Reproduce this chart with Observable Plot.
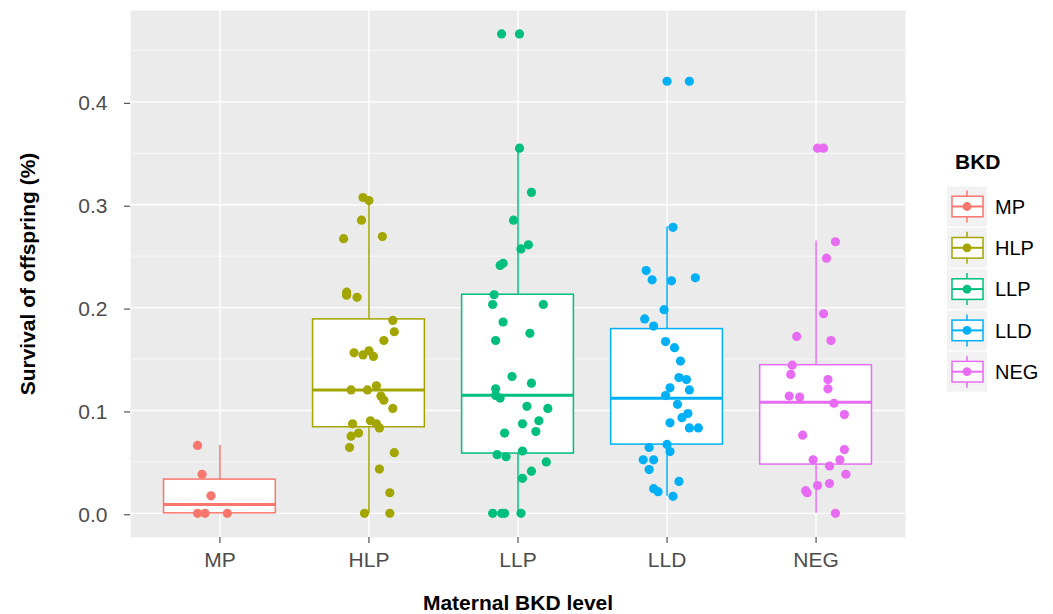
<!DOCTYPE html>
<html>
<head>
<meta charset="utf-8">
<script src="https://cdn.jsdelivr.net/npm/d3@7"></script>
<script src="https://cdn.jsdelivr.net/npm/@observablehq/plot@0.6"></script>
<style>
  html, body { margin: 0; padding: 0; background: #ffffff; }
  #chart { width: 1053px; height: 614px; }
</style>
</head>
<body>
<div id="chart"></div>
<script>
// ---- data ----
const categories = ["MP", "HLP", "LLP", "LLD", "NEG"];
const colors = ["#F8766D", "#A3A500", "#00BF7D", "#00B0F6", "#E76BF3"];
const yTicks = [0, 0.1, 0.2, 0.3, 0.4];
const yMinorTicks = [0.05, 0.15, 0.25, 0.35, 0.45];

// box statistics
const boxLower = [0, 0, 0, 0.0165, 0];
const boxQ1 = [0, 0.0837, 0.0581, 0.0668, 0.0474];
const boxMedian = [0.0085, 0.120, 0.1148, 0.1119, 0.1080];
const boxQ3 = [0.0328, 0.1885, 0.2125, 0.1791, 0.1440];
const boxUpper = [0.066, 0.3075, 0.3546, 0.2786, 0.2647];

// jittered observations (value, horizontal jitter in category units)
const mpValues = [0.066, 0.038, 0.017, 0, 0, 0];
const mpJitter = [-0.15, -0.12, -0.06, -0.15, -0.10, 0.05];
const hlpValues = [0.307,0.304,0.285,0.267,0.269,0.215,0.212,0.210,0.1875,0.1765,0.168,0.156,0.154,0.158,0.1525,0.120,0.120,0.124,0.114,0.110,0.102,0.087,0.090,0.087,0.083,0.075,0.078,0.064,0.059,0.043,0.020,0,0];
const hlpJitter = [-0.04,0.00,-0.05,-0.17,0.09,-0.15,-0.15,-0.08,0.16,0.17,0.10,-0.10,-0.04,0.00,0.03,-0.12,-0.01,0.05,0.08,0.10,0.16,-0.11,0.01,0.05,0.07,-0.12,-0.07,-0.13,0.17,0.07,0.14,-0.03,0.14];
const llpValues = [0.466,0.466,0.355,0.312,0.285,0.261,0.257,0.241,0.243,0.2125,0.203,0.203,0.186,0.175,0.168,0.133,0.1265,0.121,0.1145,0.112,0.104,0.102,0.090,0.087,0.0795,0.078,0.057,0.055,0.0606,0.050,0.041,0.034,0,0,0,0];
const llpJitter = [-0.11,0.01,0.01,0.09,-0.03,0.07,0.02,-0.12,-0.10,-0.16,-0.17,0.17,-0.10,0.08,-0.15,-0.04,0.09,-0.15,-0.15,-0.12,0.06,0.20,0.14,0.03,0.12,-0.09,-0.14,-0.08,0.03,0.19,0.09,0.03,-0.17,-0.11,-0.09,0.02];
const lldValues = [0.420,0.420,0.278,0.236,0.227,0.226,0.229,0.198,0.189,0.182,0.167,0.161,0.148,0.132,0.130,0.122,0.120,0.1145,0.106,0.097,0.093,0.088,0.083,0.083,0.064,0.067,0.060,0.052,0.052,0.0425,0.031,0.024,0.021,0.0165];
const lldJitter = [0.00,0.15,0.04,-0.14,-0.10,0.03,0.19,-0.02,-0.15,-0.09,-0.01,0.05,0.09,0.08,0.13,0.02,0.15,-0.01,0.07,0.14,0.10,0.02,0.15,0.21,-0.12,0.00,0.02,-0.16,-0.09,-0.12,0.08,-0.09,-0.06,0.04];
const negValues = [0.355,0.355,0.264,0.248,0.194,0.172,0.168,0.144,0.135,0.130,0.121,0.114,0.113,0.107,0.096,0.076,0.062,0.052,0.052,0.046,0.038,0.027,0.029,0.022,0.020,0];
const negJitter = [0.01,0.05,0.13,0.07,0.05,-0.13,0.10,-0.16,-0.17,0.08,0.08,-0.18,-0.11,0.12,0.19,-0.09,0.19,-0.02,0.16,0.09,0.20,0.01,0.09,-0.07,-0.06,0.13];

const xTitle = "Maternal BKD level";
const yTitle = "Survival of offspring (%)";
const legendTitle = "BKD";

// ---- build tables ----
const groupValues = [mpValues, hlpValues, llpValues, lldValues, negValues];
const groupJitter = [mpJitter, hlpJitter, llpJitter, lldJitter, negJitter];
const points = [];
groupValues.forEach((vals, gi) => {
  vals.forEach((v, k) => points.push({cat: categories[gi], pos: gi + 1 + groupJitter[gi][k], value: v}));
});
const boxes = categories.map((c, i) => ({
  cat: c, pos: i + 1, lo: boxLower[i], q1: boxQ1[i], med: boxMedian[i], q3: boxQ3[i], hi: boxUpper[i]
}));
const positions = categories.map((c, i) => i + 1);
const half = 0.375;

const font = "'Liberation Sans', Arial, Helvetica, sans-serif";

const plot = Plot.plot({
  width: 1053,
  height: 614,
  marginLeft: 130,
  marginRight: 148,
  marginTop: 10,
  marginBottom: 77,
  style: {fontFamily: font, fontSize: "21px", color: "#4D4D4D", background: "#ffffff", overflow: "visible"},
  x: {type: "linear", domain: [0.4, 5.6], axis: null},
  y: {domain: [-0.0235, 0.4888], axis: null},
  color: {domain: categories, range: colors},
  marks: [
    Plot.frame({fill: "#EBEBEB", stroke: null}),
    Plot.gridY(yMinorTicks, {stroke: "#ffffff", strokeOpacity: 1, strokeWidth: 0.7}),
    Plot.gridY(yTicks, {stroke: "#ffffff", strokeOpacity: 1, strokeWidth: 1.4}),
    Plot.gridX(positions, {stroke: "#ffffff", strokeOpacity: 1, strokeWidth: 1.4}),
    Plot.axisY(yTicks, {anchor: "left", tickFormat: d => d.toFixed(1), tickSize: 6, tickPadding: 17,
      stroke: "#333333", fill: "#4D4D4D", fontSize: 21, dy: 1.5, label: null}),
    Plot.axisX(positions, {anchor: "bottom", tickFormat: i => categories[i - 1], tickSize: 6, tickPadding: 9,
      stroke: "#333333", fill: "#4D4D4D", fontSize: 21, label: null}),
    // whiskers
    Plot.ruleX(boxes, {x: "pos", y1: "q3", y2: "hi", stroke: "cat", strokeWidth: 1.5}),
    Plot.ruleX(boxes, {x: "pos", y1: "lo", y2: "q1", stroke: "cat", strokeWidth: 1.5}),
    // boxes
    Plot.rect(boxes, {x1: d => d.pos - half, x2: d => d.pos + half, y1: "q1", y2: "q3",
      fill: "#ffffff", stroke: "cat", strokeWidth: 1.5}),
    // medians
    Plot.ruleY(boxes, {x1: d => d.pos - half, x2: d => d.pos + half, y: "med", stroke: "cat", strokeWidth: 3}),
    // jittered points
    Plot.dot(points, {x: "pos", y: "value", fill: "cat", r: 4.6, stroke: null}),
    // axis titles
    Plot.text([yTitle], {text: d => d, frameAnchor: "left", dx: -96, rotate: -90, lineAnchor: "bottom",
      textAnchor: "middle", fontWeight: "bold", fill: "#000000", fontSize: 21}),
    Plot.text([xTitle], {text: d => d, frameAnchor: "bottom", dy: 72, lineAnchor: "bottom",
      textAnchor: "middle", fontWeight: "bold", fill: "#000000", fontSize: 21})
  ]
});

// ---- legend (ggplot style) ----
const svg = d3.select(plot);
const lg = svg.append("g").attr("font-family", font).attr("text-anchor", "start");
lg.append("text").attr("x", 955).attr("y", 169).attr("font-size", 21).attr("font-weight", "bold")
  .attr("text-anchor", "start").attr("fill", "#000").text(legendTitle);
const keyX = 947, keyW = 40, keyStep = 41.3, keyY0 = 206.5;
categories.forEach((c, i) => {
  const cy = keyY0 + i * keyStep;
  const col = colors[i];
  const g = lg.append("g");
  g.append("rect").attr("x", keyX).attr("y", cy - 20).attr("width", keyW).attr("height", 40).attr("fill", "#F2F2F2");
  g.append("line").attr("x1", keyX + 20).attr("x2", keyX + 20).attr("y1", cy - 16).attr("y2", cy + 16)
    .attr("stroke", col).attr("stroke-width", 1.5);
  g.append("rect").attr("x", keyX + 5).attr("y", cy - 10.3).attr("width", 31).attr("height", 20.6)
    .attr("fill", "#fff").attr("stroke", col).attr("stroke-width", 1.5);
  g.append("line").attr("x1", keyX + 5).attr("x2", keyX + 36).attr("y1", cy).attr("y2", cy)
    .attr("stroke", col).attr("stroke-width", 2);
  g.append("circle").attr("cx", keyX + 20).attr("cy", cy).attr("r", 4.4).attr("fill", col);
  g.append("text").attr("x", 995).attr("y", cy).attr("dy", "0.36em").attr("font-size", 20)
    .attr("text-anchor", "start").attr("fill", "#000").text(c);
});

document.getElementById("chart").appendChild(plot);
</script>
</body>
</html>
